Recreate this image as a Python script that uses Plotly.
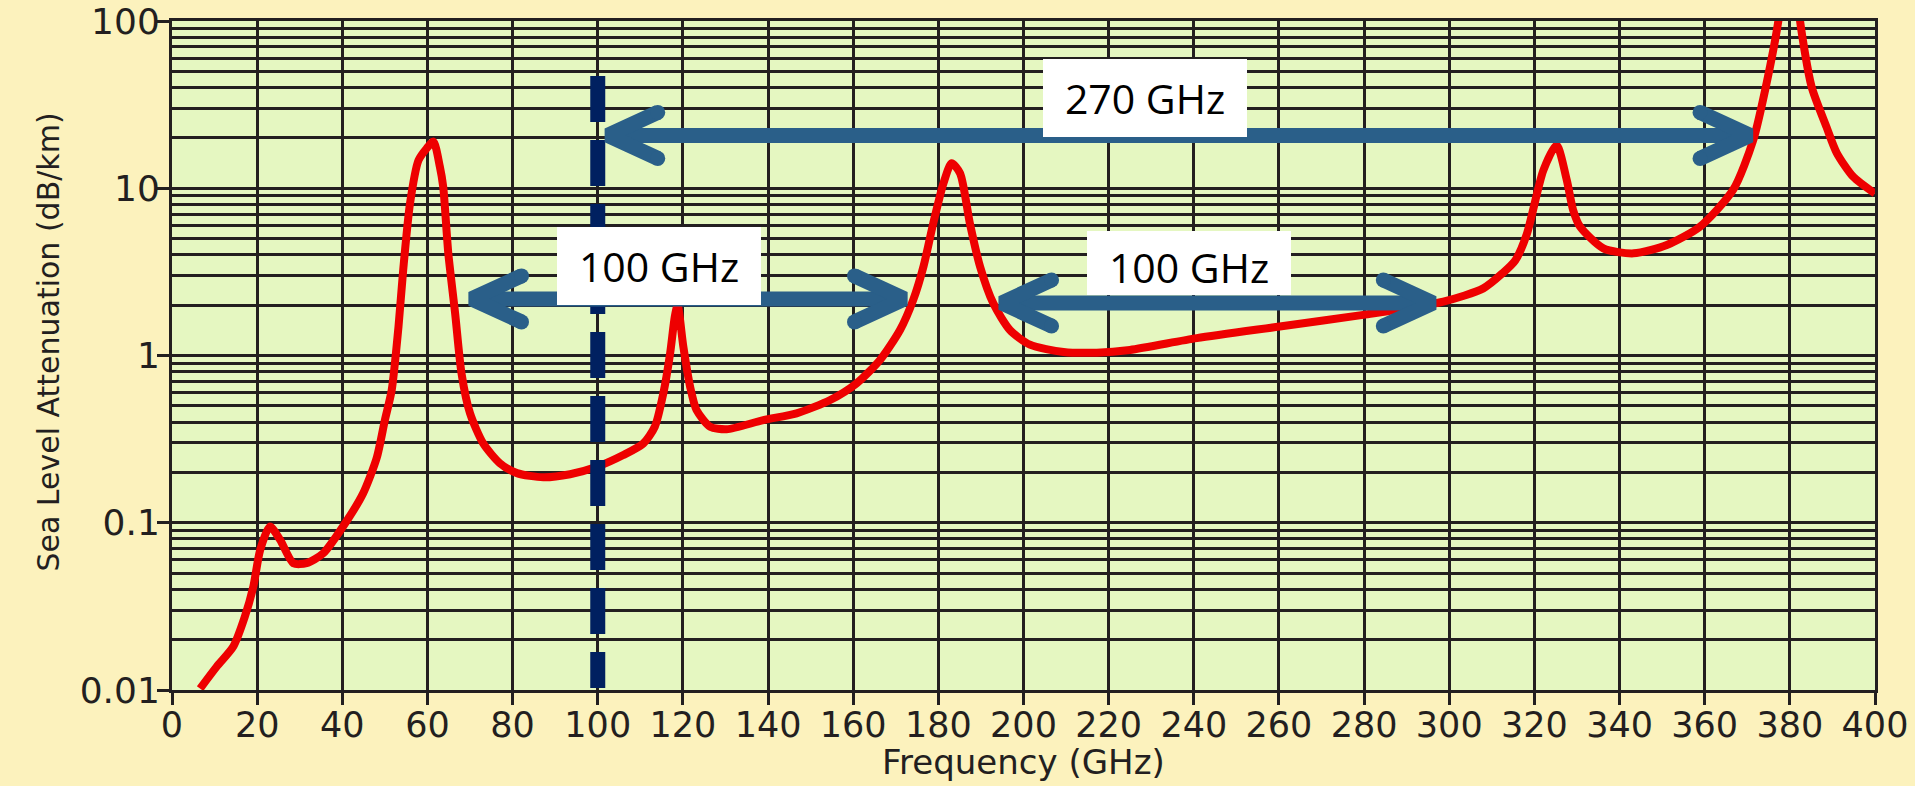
import numpy as np
import plotly.graph_objects as go

# ---------------- data ----------------
freq_ghz = [6.6, 10.5, 14.4, 17.1, 19.1, 20.7, 23.0, 25.4, 28.5, 31.6, 35.5, 41.4, 44.9,
            48.1, 50.0, 51.6, 53.2, 54.3, 55.9, 57.9, 59.8, 61.4, 62.9, 63.7, 64.9, 66.5,
            68.0, 70.0, 73.1, 77.0, 81.0, 87.2, 93.5, 99.8, 106.0, 110.7, 113.4, 115.4,
            117.0, 118.1, 118.75, 120.1, 121.7, 123.2, 126.4, 130.3, 138.9, 146.7, 154.6,
            160.8, 166.3, 171.0, 174.1, 176.5, 178.8, 181.2, 183.1, 185.1, 187.4, 189.8,
            192.9, 196.8, 201.5, 209.4, 217.2, 225.0, 240.7, 260.2, 279.8, 298.6, 308.0,
            312.5, 315.5, 318.2, 322.1, 325.2, 327.6, 329.1, 330.7, 336.2, 343.3, 351.1,
            358.9, 366.7, 371.4, 374.5, 377.3, 378.5, 380.0, 381.5, 382.4, 385.1, 388.6,
            391.0, 394.9, 400.0]
atten_db_km = [0.0102, 0.0138, 0.0182, 0.0274, 0.0415, 0.0687, 0.095, 0.079, 0.0573, 0.0573,
               0.0656, 0.106, 0.150, 0.245, 0.411, 0.62, 1.49, 3.24, 8.1, 14.7, 17.3, 19.0,
               13.5, 10.2, 4.08, 1.79, 0.783, 0.451, 0.298, 0.227, 0.198, 0.187, 0.195,
               0.216, 0.254, 0.298, 0.375, 0.594, 1.03, 1.71, 2.0, 1.13, 0.65, 0.472, 0.375,
               0.362, 0.411, 0.451, 0.542, 0.682, 0.94, 1.42, 2.15, 3.40, 6.17, 10.7, 14.1,
               12.3, 6.17, 3.40, 2.05, 1.42, 1.16, 1.05, 1.04, 1.08, 1.27, 1.49, 1.75, 2.10,
               2.52, 3.1, 3.7, 5.3, 12.8, 18.1, 11.2, 7.4, 5.9, 4.37, 4.08, 4.58, 5.9, 9.8,
               19.4, 42.0, 100.0, 180.0, 300.0, 180.0, 100.0, 40.5, 23.3, 16.3, 11.7, 9.3]

x_tick_vals = list(range(0, 401, 20))
y_tick_vals = [0.01, 0.1, 1, 10, 100]
y_tick_text = ["0.01", "0.1", "1", "10", "100"]
y_minor_vals = [m * 10.0 ** e for e in range(-2, 2) for m in range(2, 10)]

marker_freq = 100                      # dashed reference line (GHz)
span_start = [100.0, 68.0, 192.5]      # arrow start (GHz)
span_end = [373.0, 174.4, 298.6]       # arrow end (GHz)
span_level = [20.7, 2.18, 2.06]        # arrow height (dB/km)
span_label = ["270 GHz", "100 GHz", "100 GHz"]
label_freq = [228.5, 114.4, 238.9]
label_level = [34.6, 3.43, 3.57]

# ---------------- layout geometry / styles ----------------
W, H = 1915, 786
ML, MR, MT, MB = 172, 40, 21, 96
X_RANGE = [0, 400]
Y_LOG_RANGE = [-2, 2]
PW, PH = W - ML - MR, H - MT - MB
px_per_x = PW / (X_RANGE[1] - X_RANGE[0])
px_per_dec = PH / (Y_LOG_RANGE[1] - Y_LOG_RANGE[0])

PAPER = "#FCF2BD"
PLOT = "#E5F7C1"
GRID = "#231F20"
RED = "#EE0000"
ARROW = "#2A5F89"
NAVY = "#002060"
TXT = "#231F20"
AX_FONT = "DejaVu Sans"


def sx(x, dpx):
    return x + dpx / px_per_x


def sy(y, dpx):  # dpx > 0 moves downwards on screen
    return y * 10 ** (-dpx / px_per_dec)


fig = go.Figure()

fig.add_trace(go.Scatter(x=freq_ghz, y=atten_db_km, mode="lines",
                         line=dict(color=RED, width=8, shape="spline", smoothing=0.7),
                         hoverinfo="skip"))

# dashed vertical line at 100 GHz
fig.add_trace(go.Scatter(x=[marker_freq, marker_freq],
                         y=[sy(10 ** Y_LOG_RANGE[1], 55), sy(10 ** Y_LOG_RANGE[0], -2)],
                         mode="lines", line=dict(color=NAVY, width=15, dash="46px,18px"),
                         hoverinfo="skip"))

# double-headed arrows
TIP_IN, ARM_DX, ARM_DY = 10, 50, 23
ax_, ay_, cx_, cy_ = [], [], [], []
for s, e, lv in zip(span_start, span_end, span_level):
    xl, xr = sx(s, TIP_IN), sx(e, -TIP_IN)
    ax_ += [xl, xr, None]
    ay_ += [lv, lv, None]
    ax_ += [sx(xl, ARM_DX), xl, sx(xl, ARM_DX), None]
    ay_ += [sy(lv, -ARM_DY), lv, sy(lv, ARM_DY), None]
    ax_ += [sx(xr, -ARM_DX), xr, sx(xr, -ARM_DX), None]
    ay_ += [sy(lv, -ARM_DY), lv, sy(lv, ARM_DY), None]
    cx_ += [sx(xl, ARM_DX), sx(xl, ARM_DX), sx(xr, -ARM_DX), sx(xr, -ARM_DX)]
    cy_ += [sy(lv, -ARM_DY), sy(lv, ARM_DY), sy(lv, -ARM_DY), sy(lv, ARM_DY)]
fig.add_trace(go.Scatter(x=ax_, y=ay_, mode="lines", line=dict(color=ARROW, width=15),
                         hoverinfo="skip", connectgaps=False))
fig.add_trace(go.Scatter(x=cx_, y=cy_, mode="markers",
                         marker=dict(color=ARROW, size=15, line=dict(width=0)),
                         hoverinfo="skip"))

box_h = [78, 78, 64]
box_valign = ["middle", "middle", "bottom"]
for lf, ll, txt, bh, va in zip(label_freq, label_level, span_label, box_h, box_valign):
    fig.add_annotation(x=lf, y=np.log10(ll), xref="x", yref="y", text=txt, showarrow=False,
                       font=dict(family="Open Sans", size=41, color="black"),
                       bgcolor="white", width=204, height=bh, borderpad=0, borderwidth=0,
                       valign=va, xanchor="center", yanchor="middle")

# axis titles
fig.add_annotation(x=0.5, y=-0.107, xref="paper", yref="paper", text="Frequency (GHz)",
                   showarrow=False, font=dict(family=AX_FONT, size=34, color=TXT),
                   xanchor="center", yanchor="middle")
fig.add_annotation(x=(48.5 - ML) / PW, y=0.52, xref="paper", yref="paper",
                   text="Sea Level Attenuation (dB/km)", textangle=-90, showarrow=False,
                   font=dict(family=AX_FONT, size=30, color=TXT),
                   xanchor="center", yanchor="middle")

fig.update_xaxes(range=X_RANGE, tickmode="array", tickvals=x_tick_vals,
                 ticks="outside", ticklen=12, tickwidth=3, tickcolor=GRID,
                 ticklabelstandoff=-10, automargin=False,
                 showgrid=True, gridcolor=GRID, gridwidth=3,
                 showline=True, mirror=True, linecolor=GRID, linewidth=3, zeroline=False,
                 tickfont=dict(family=AX_FONT, size=35, color=TXT))
fig.update_yaxes(type="log", range=Y_LOG_RANGE, tickmode="array", tickvals=y_tick_vals,
                 ticktext=y_tick_text, ticks="outside", ticklen=12, tickwidth=3, tickcolor=GRID,
                 ticklabelstandoff=-10, automargin=False,
                 showgrid=True, gridcolor=GRID, gridwidth=3,
                 minor=dict(tickmode="array", tickvals=y_minor_vals, showgrid=True,
                            gridcolor=GRID, gridwidth=3, ticks=""),
                 showline=True, mirror=True, linecolor=GRID, linewidth=3, zeroline=False,
                 tickfont=dict(family=AX_FONT, size=36, color=TXT))

fig.update_layout(width=W, height=H, margin=dict(l=ML, r=MR, t=MT, b=MB, pad=0, autoexpand=False),
                  paper_bgcolor=PAPER, plot_bgcolor=PLOT, showlegend=False)

fig.write_html("out.html")
